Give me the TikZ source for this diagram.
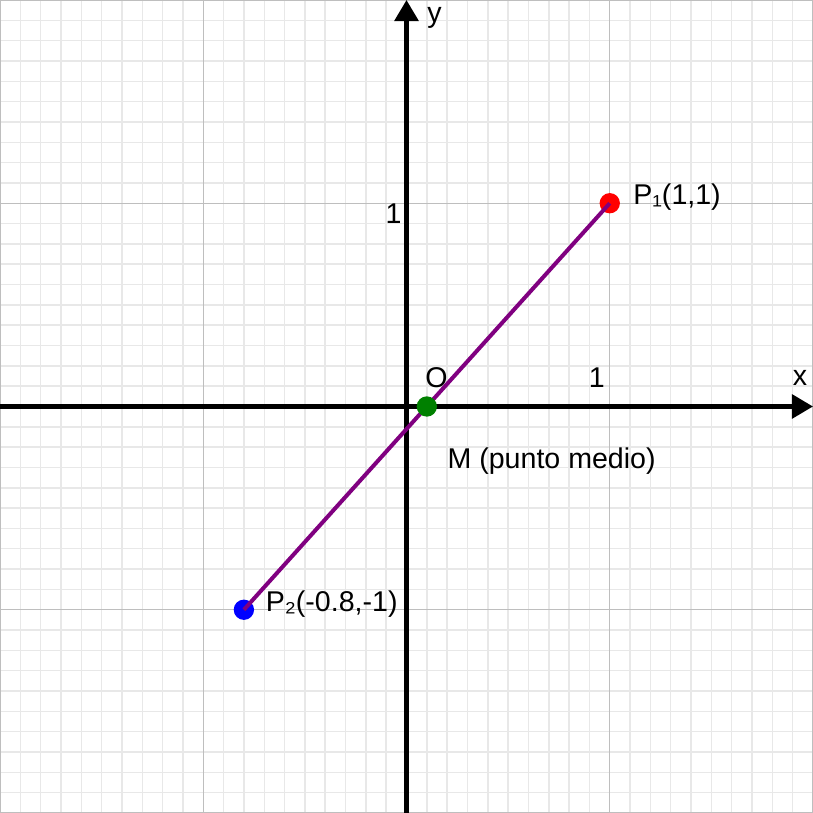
\documentclass[tikz,border=0pt]{standalone}
\usepackage{fontspec}
\setmainfont{Liberation Sans}
\usetikzlibrary{arrows.meta}
\definecolor{minorGrid}{RGB}{232,232,232}
\definecolor{majorGrid}{RGB}{190,190,190}
\definecolor{segColor}{RGB}{128,0,128}
\definecolor{midColor}{RGB}{0,128,0}
\tikzset{
    every node/.append style={font=\fontsize{10}{12}\selectfont,inner sep=0pt},
    axis/.style={line width=1.6pt,-{Triangle[length=2.6mm,width=2.9mm]}},
    seg/.style={line width=1.4pt,draw=segColor},
    dot/.style={radius=0.05},
    lbl/.style={anchor=center}
}
\begin{document}
\begin{tikzpicture}[x=2.5cm,y=2.5cm]
    \useasboundingbox (-2,-2) rectangle (2,2);
    % grid
    \draw[minorGrid,line width=0.5pt] (-2,-2) grid[step=0.1] (2,2);
    \draw[majorGrid,line width=0.5pt] (-2,-2) grid[step=1] (2,2);
    % axes
    \coordinate (xl) at (-2,0);
    \coordinate (xr) at (2,0);
    \coordinate (yb) at (0,-2);
    \coordinate (yt) at (0,2);
    \draw[axis] (xl) -- (xr);
    \draw[axis] (yb) -- (yt);
    \node[lbl] (xlab)  at (1.936,0.14) {x};
    \node[lbl] (ylab)  at (0.138,1.91) {y};
    \node[lbl] (orig)  at (0.148,0.14) {O};
    \node[lbl] (xone)  at (0.936,0.14) {1};
    \node[lbl] (yone)  at (-0.064,0.95) {1};
    % points
    \coordinate (P1) at (1,1);
    \coordinate (P2) at (-0.8,-1);
    \coordinate (M)  at (0.1,0);
    \fill[red]  (P1) circle[dot];
    \fill[blue] (P2) circle[dot];
    \draw[seg] (P2) -- (P1);
    \fill[midColor] (M) circle[dot];
    \node[anchor=west] (p1lab) at (1.113,1.03) {P₁(1,1)};
    \node[anchor=west] (p2lab) at (-0.695,-0.97) {P₂(-0.8,-1)};
    \node[lbl] (mlab) at (0.714,-0.27) {M (punto medio)};
\end{tikzpicture}
\end{document}
